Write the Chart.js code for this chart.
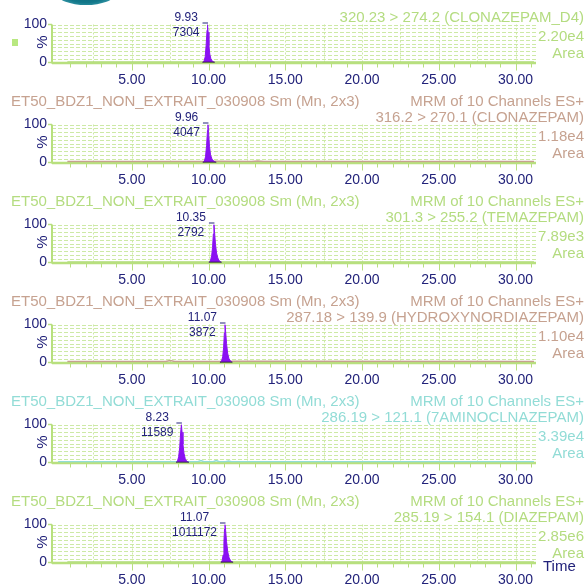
<!DOCTYPE html>
<html><head><meta charset="utf-8">
<script src="https://cdn.jsdelivr.net/npm/chart.js@4"></script>
<style>
html,body{margin:0;padding:0;background:#fff;width:586px;height:585px;overflow:hidden;position:relative;font-family:"Liberation Sans",Arial,sans-serif;}
.pn{position:absolute;left:0;width:586px;height:100px;}
.pn canvas{position:absolute;left:0;top:0;}
.t{position:absolute;white-space:nowrap;font-size:15px;line-height:15px;}
.r{right:2px;}
.pct{position:absolute;width:20px;height:16px;line-height:16px;text-align:center;font-size:15px;color:#22227a;transform:rotate(-90deg);}
</style></head><body>
<div style="position:absolute;left:57px;top:-17px;width:58px;height:22px;border-radius:50%;background:radial-gradient(ellipse at 50% 30%,#0b5f70 0%,#12788a 60%,#5fb9c6 100%);"></div>
<div style="position:absolute;left:12px;top:39px;width:6px;height:7px;background:#b8e880;"></div>
<div id="root"></div>
<script>
// ---- data ----
const sampleName = 'ET50_BDZ1_NON_EXTRAIT_030908 Sm (Mn, 2x3)';
const scanInfo = 'MRM of 10 Channels ES+';
const transitions = ['320.23 > 274.2 (CLONAZEPAM_D4)','316.2 > 270.1 (CLONAZEPAM)','301.3 > 255.2 (TEMAZEPAM)','287.18 > 139.9 (HYDROXYNORDIAZEPAM)','286.19 > 121.1 (7AMINOCLNAZEPAM)','285.19 > 154.1 (DIAZEPAM)'];
const maxIntensity = ['2.20e4','1.18e4','7.89e3','1.10e4','3.39e4','2.85e6'];
const rtLabels = ['9.93','9.96','10.35','11.07','8.23','11.07'];
const areaLabels = ['7304','4047','2792','3872','11589','1011172'];
const xTickValues = [5,10,15,20,25,30];
const xTickLabels = ['5.00','10.00','15.00','20.00','25.00','30.00'];
const yTickValues = [0,100];
const yTickLabels = ['0','100'];

const trace1X = [0.8, 9.5, 10.5, 31.2];
const trace1Y = [1, 1, 1, 1];
const trace2X = [0.8, 4.0, 7.5, 9.6, 10.5, 12.8, 13.2, 13.6, 31.2];
const trace2Y = [2.5, 2.5, 2.5, 2.5, 3, 2.5, 4, 2.5, 2.5];
const trace3X = [0.8, 10.0, 10.9, 31.2];
const trace3Y = [1, 1, 1, 1];
const trace4X = [0.8, 7.2, 7.5, 7.8, 10.7, 11.6, 31.2];
const trace4Y = [2.5, 2.5, 5, 2.5, 2.5, 3, 2.5];
const trace5X = [0.2, 7.8, 8.8, 9.3, 9.5, 9.7, 10.3, 10.5, 10.7, 11.1, 11.3, 11.5, 31.2];
const trace5Y = [2, 2, 2, 2, 5, 2, 2, 5, 2, 2, 4, 2, 2];
const trace6X = [0.8, 10.8, 11.7, 31.2];
const trace6Y = [1, 1, 1, 1];

const peak1X = [9.60, 9.70, 9.78, 9.84, 9.90, 9.93, 9.97, 10.02, 10.08, 10.15, 10.25, 10.40];
const peak1Y = [0, 3, 15, 45, 85, 100, 80, 45, 22, 10, 3, 0];
const peak2X = [9.62, 9.72, 9.80, 9.87, 9.93, 9.96, 10.00, 10.06, 10.13, 10.22, 10.35, 10.50];
const peak2Y = [0, 3, 15, 45, 85, 100, 78, 42, 20, 9, 3, 0];
const peak3X = [10.02, 10.12, 10.20, 10.26, 10.31, 10.35, 10.39, 10.45, 10.52, 10.60, 10.70, 10.85];
const peak3Y = [0, 4, 18, 40, 75, 100, 80, 48, 25, 12, 4, 0];
const peak4X = [10.74, 10.84, 10.92, 10.98, 11.03, 11.07, 11.11, 11.17, 11.24, 11.32, 11.42, 11.55];
const peak4Y = [0, 3, 15, 40, 78, 100, 82, 50, 25, 11, 4, 0];
const peak5X = [7.88, 7.97, 8.05, 8.12, 8.18, 8.23, 8.27, 8.33, 8.40, 8.48, 8.58, 8.72];
const peak5Y = [0, 3, 15, 40, 78, 100, 80, 48, 24, 10, 3, 0];
const peak6X = [10.80, 10.88, 10.95, 11.00, 11.04, 11.07, 11.11, 11.17, 11.25, 11.34, 11.45, 11.60];
const peak6Y = [0, 4, 20, 55, 88, 100, 85, 55, 28, 12, 4, 0];

// ---- styles ----
const GREEN = '#b4dc80', TAN = '#c6a290', CYAN = '#92dcd6';
const headColors = [GREEN, TAN, GREEN, TAN, CYAN, GREEN];
const NAVY = '#22227a';
const GRID = '#cde9a6';
const AXIS = '#b8e07e';
const PURPLE = '#8a12f2';
const FONT = '"Liberation Sans", Arial, sans-serif';

const traces = [[trace1X,trace1Y],[trace2X,trace2Y],[trace3X,trace3Y],[trace4X,trace4Y],[trace5X,trace5Y],[trace6X,trace6Y]];
const peaks = [[peak1X,peak1Y],[peak2X,peak2Y],[peak3X,peak3Y],[peak4X,peak4Y],[peak5X,peak5Y],[peak6X,peak6Y]];
const pts = (xs, ys) => xs.map((x, i) => ({x, y: ys[i]}));

const chromPlugin = {
  id: 'chrom',
  beforeDatasetsDraw(chart) {
    const {ctx, chartArea: a, scales: {x, y}} = chart;
    ctx.save();
    ctx.strokeStyle = GRID; ctx.lineWidth = 1;
    ctx.setLineDash([4, 2]);
    for (let v = 10; v <= 100; v += 10) {
      const py = Math.round(y.getPixelForValue(v)) + 0.5;
      ctx.beginPath(); ctx.moveTo(a.left, py); ctx.lineTo(a.right, py); ctx.stroke();
    }
    ctx.setLineDash([2, 2]);
    for (let v = 2.5; v <= x.max; v += 2.5) {
      const px = Math.round(x.getPixelForValue(v)) + 0.5;
      ctx.beginPath(); ctx.moveTo(px, a.top); ctx.lineTo(px, a.bottom); ctx.stroke();
    }
    ctx.setLineDash([]);
    // axes
    ctx.strokeStyle = AXIS; ctx.lineWidth = 2.5;
    ctx.beginPath(); ctx.moveTo(a.left, a.bottom + 0.5); ctx.lineTo(a.right, a.bottom + 0.5); ctx.stroke();
    ctx.lineWidth = 2;
    ctx.beginPath(); ctx.moveTo(a.left, a.top); ctx.lineTo(a.left, a.bottom + 1); ctx.stroke();
    ctx.lineWidth = 1.5;
    for (const v of yTickValues) {
      const py = y.getPixelForValue(v);
      ctx.beginPath(); ctx.moveTo(a.left - 4, py); ctx.lineTo(a.left, py); ctx.stroke();
    }
    ctx.lineWidth = 1;
    for (let v = 1; v <= x.max; v += 1) {
      const px = Math.round(x.getPixelForValue(v)) + 0.5;
      const len = (v % 5 === 0) ? 7 : 4;
      ctx.beginPath(); ctx.moveTo(px, a.bottom + 1); ctx.lineTo(px, a.bottom + 1 + len); ctx.stroke();
    }
    ctx.restore();
  },
  afterDatasetsDraw(chart) {
    const i = chart.options.plugins.chrom.idx;
    const {ctx, scales: {x, y}} = chart;
    const [px, py] = peaks[i];
    let k = 0; py.forEach((v, j) => { if (v > py[k]) k = j; });
    const ax = x.getPixelForValue(px[k]);
    const top = y.getPixelForValue(100);
    ctx.save();
    ctx.font = '12px ' + FONT;
    ctx.fillStyle = NAVY; ctx.textAlign = 'center'; ctx.textBaseline = 'middle';
    const w = Math.max(ctx.measureText(areaLabels[i]).width, ctx.measureText(rtLabels[i]).width);
    const cx = ax - 8 - w / 2;
    ctx.fillText(rtLabels[i], cx, top - 7);
    ctx.fillText(areaLabels[i], cx, top + 8.5);
    ctx.strokeStyle = NAVY; ctx.lineWidth = 1;
    ctx.beginPath(); ctx.moveTo(ax - 5, top - 1.5); ctx.lineTo(ax + 0.5, top - 1.5); ctx.stroke();
    ctx.restore();
  }
};

const root = document.getElementById('root');
for (let i = 0; i < 6; i++) {
  const pn = document.createElement('div');
  pn.className = 'pn';
  pn.style.top = (i * 100 - 8) + 'px';
  const col = headColors[i];
  let html = '<canvas width="586" height="100"></canvas>';
  if (i > 0) {
    html += `<div class="t" style="left:11px;top:0.5px;color:${col}">${sampleName}</div>`;
    html += `<div class="t r" style="top:0.5px;color:${col}">${scanInfo}</div>`;
  }
  html += `<div class="t r" style="top:17px;color:${col}">${transitions[i].replace(/>/g,'&gt;')}</div>`;
  html += `<div class="t r" style="top:35.5px;color:${col}">${maxIntensity[i]}</div>`;
  html += `<div class="t r" style="top:53px;color:${col}">Area</div>`;
  html += `<div class="pct" style="left:31.5px;top:42px">%</div>`;
  if (i === 5) html += `<div class="t" style="left:543px;top:65.5px;color:${NAVY}">Time</div>`;
  pn.innerHTML = html;
  root.appendChild(pn);
  const canvas = pn.querySelector('canvas');
  const [tx, ty] = traces[i];
  const [px, py] = peaks[i];
  new Chart(canvas, {
    type: 'line',
    data: { datasets: [
      { data: pts(tx, ty), borderColor: col, borderWidth: 1.5, pointRadius: 0, fill: false, order: 3 },
      { data: pts(px, py), borderColor: PURPLE, backgroundColor: PURPLE, borderWidth: 1, pointRadius: 0, fill: 'origin', order: 2 },
      { data: pts([px[0], px[px.length - 1]], [0, 0]), borderColor: '#141414', borderWidth: 1.5, pointRadius: 0, fill: false, order: 1 }
    ]},
    plugins: [chromPlugin],
    options: {
      responsive: false, animation: false, parsing: true,
      layout: { padding: { left: 0, right: 50, top: 32.5, bottom: 0 } },
      plugins: { legend: { display: false }, tooltip: { enabled: false }, chrom: { idx: i } },
      scales: {
        x: {
          type: 'linear', min: -0.2, max: 31.33,
          afterFit(s) { s.height = 29.5; },
          afterBuildTicks(s) { s.ticks = xTickValues.map(v => ({ value: v })); },
          ticks: { callback: (v, j) => xTickLabels[j], color: NAVY, font: { size: 14, family: FONT }, maxRotation: 0, autoSkip: false, padding: 9 },
          grid: { display: false, drawTicks: false }, border: { display: false }
        },
        y: {
          min: 0, max: 100,
          afterFit(s) { s.width = 52; },
          afterBuildTicks(s) { s.ticks = yTickValues.map(v => ({ value: v })); },
          ticks: { callback: (v, j) => yTickLabels[j], color: NAVY, font: { size: 14, family: FONT }, padding: 5 },
          grid: { display: false, drawTicks: false }, border: { display: false }
        }
      }
    }
  });
}
</script>
</body></html>
